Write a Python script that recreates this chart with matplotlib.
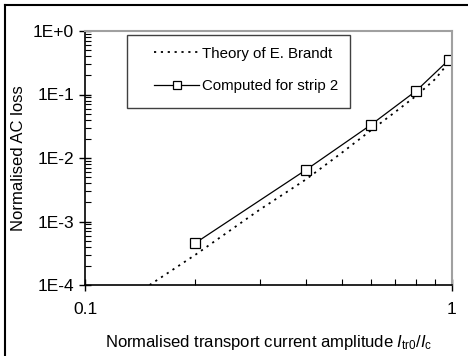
import numpy as np
import matplotlib
matplotlib.use('Agg')
import matplotlib.pyplot as plt
from matplotlib.lines import Line2D
from matplotlib.patches import Rectangle
from matplotlib.ticker import LogLocator, FixedLocator, NullFormatter

plt.rcParams['font.family'] = ['Liberation Sans', 'DejaVu Sans']
plt.rcParams['mathtext.fontset'] = 'custom'
plt.rcParams['mathtext.rm'] = 'Liberation Sans'
plt.rcParams['mathtext.it'] = 'Liberation Sans:italic'

# theory curve
theory_x = [0.15, 0.2, 0.3, 0.4, 0.5, 0.6, 0.7, 0.8, 0.9, 0.98]
theory_y = [1.0e-4, 3.0e-4, 1.55e-3, 4.6e-3, 1.2e-2, 2.7e-2, 5.3e-2, 9.6e-2, 1.75e-1, 3.2e-1]

# computed values for strip 2
strip_x = [0.2, 0.4, 0.6, 0.8, 0.98]
strip_y = [4.6e-4, 6.5e-3, 3.3e-2, 1.15e-1, 3.5e-1]

fig = plt.figure(figsize=(4.68, 3.56), dpi=100)
ax = fig.add_axes([85/468, 1-285/356, 367/468, 254/356])

ax.plot(theory_x, theory_y, color='black', linestyle=(0, (1.2, 2.6)), linewidth=1.3,
        label='Theory of E. Brandt')
ax.plot(strip_x, strip_y, color='black', linewidth=0.9, marker='s', markersize=6.8,
        markerfacecolor='white', markeredgecolor='black', markeredgewidth=0.9,
        label='Computed for strip 2')

ax.set_xscale('log')
ax.set_yscale('log')
ax.set_xlim(0.1, 1)
ax.set_ylim(1e-4, 1)

ax.xaxis.set_major_locator(FixedLocator([0.1, 1]))
ax.set_xticklabels(['0.1', '1'])
ax.xaxis.set_minor_locator(LogLocator(base=10, subs=np.arange(2, 10)))
ax.xaxis.set_minor_formatter(NullFormatter())
ax.yaxis.set_major_locator(FixedLocator([1e-4, 1e-3, 1e-2, 1e-1, 1]))
ax.set_yticklabels(['1E-4', '1E-3', '1E-2', '1E-1', '1E+0'])
ax.yaxis.set_minor_locator(LogLocator(base=10, subs=np.arange(2, 10)))
ax.yaxis.set_minor_formatter(NullFormatter())

ax.tick_params(which='major', direction='inout', length=8, width=1, labelsize=12.5, color='black')
ax.tick_params(axis='x', which='major', pad=8)
ax.tick_params(axis='y', which='major', pad=4)
ax.tick_params(which='minor', direction='in', length=4, width=0.8)

for s in ['top', 'right']:
    ax.spines[s].set_color('#a0a0a0')
    ax.spines[s].set_linewidth(1.5)
for s in ['left', 'bottom']:
    ax.spines[s].set_color('black')
    ax.spines[s].set_linewidth(1.2)

ax.set_xlabel(r'Normalised transport current amplitude $\mathit{I}_{\rm tr0}/\mathit{I}_{\rm c}$',
              fontsize=12, labelpad=12)
ax.set_ylabel('Normalised AC loss', fontsize=12, labelpad=5)

# legend box (excel style, with wide padding)
ax.add_patch(Rectangle((0.114, 0.697), 0.608, 0.287, transform=ax.transAxes,
                       facecolor='white', edgecolor='#404040', linewidth=1.0, zorder=4))
leg = ax.legend(loc='upper left', bbox_to_anchor=((154 - 85) / 367, 0.938),
                fontsize=10.8, frameon=False, handlelength=3.0, markerscale=0.75,
                labelspacing=1.25, borderpad=0, handletextpad=0.2, borderaxespad=0)
leg.set_zorder(5)

# outer frame (top and left edges visible)
fig.add_artist(Line2D([5/468, 1.0], [1-5/356, 1-5/356], transform=fig.transFigure,
                      color='black', linewidth=1.5))
fig.add_artist(Line2D([5/468, 5/468], [0.0, 1-5/356], transform=fig.transFigure,
                      color='black', linewidth=1.5))

fig.savefig('out.png', dpi=100)
